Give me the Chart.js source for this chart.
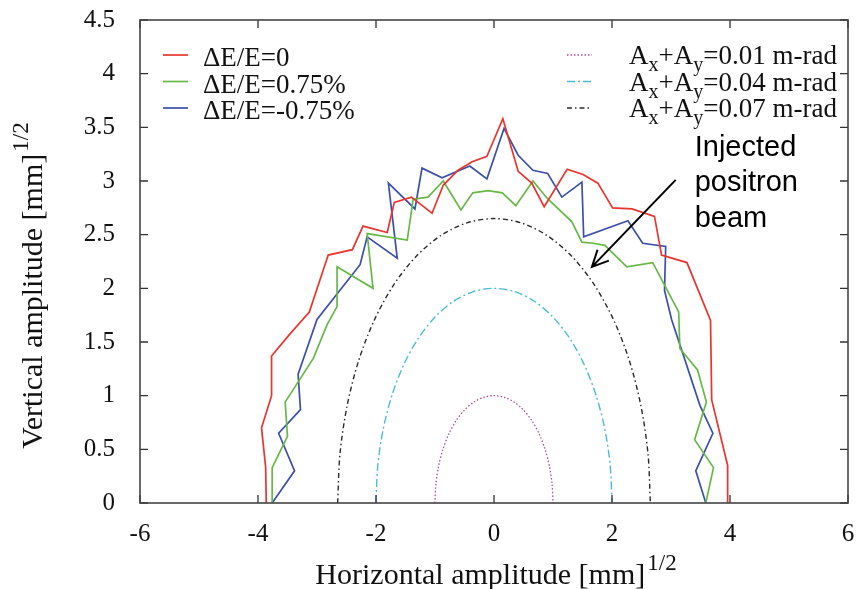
<!DOCTYPE html>
<html>
<head>
<meta charset="utf-8">
<script src="https://cdn.jsdelivr.net/npm/chart.js@4.4.1/dist/chart.umd.min.js"></script>
<style>
  body { margin: 0; background: #fff; }
</style>
</head>
<body>
<canvas id="ampChart" width="861" height="589"></canvas>
<script>
const xTicks = [-6, -4, -2, 0, 2, 4, 6];
const yTicks = [0, 0.5, 1, 1.5, 2, 2.5, 3, 3.5, 4, 4.5];

// dynamic aperture, dE/E = 0
const apX0 = [-3.86, -3.87, -3.94, -3.77, -3.77, -3.45, -3.13, -2.81, -2.40, -2.22, -1.81, -1.69, -1.40, -1.05, -0.86, -0.61, -0.37, -0.12, 0.15, 0.41, 0.64, 0.85, 1.24, 1.51, 1.76, 2.01, 2.34, 2.72, 2.84, 3.27, 3.67, 3.69, 3.96, 3.96];
const apY0 = [0, 0.33, 0.70, 1.00, 1.37, 1.58, 1.78, 2.31, 2.36, 2.58, 2.52, 2.80, 2.85, 2.70, 2.96, 3.10, 3.18, 3.23, 3.58, 3.09, 2.98, 2.76, 3.11, 3.06, 2.98, 2.75, 2.74, 2.67, 2.31, 2.24, 1.70, 0.96, 0.35, 0];
// dE/E = +0.75%
const apXp = [-3.76, -3.76, -3.50, -3.54, -3.06, -2.83, -2.66, -2.66, -2.05, -2.15, -1.47, -1.37, -1.12, -0.86, -0.56, -0.36, -0.10, 0.14, 0.37, 0.66, 0.90, 1.32, 1.49, 1.68, 1.88, 2.25, 2.69, 3.13, 3.15, 3.45, 3.60, 3.40, 3.72, 3.59];
const apYp = [0, 0.33, 0.62, 0.94, 1.35, 1.66, 1.83, 2.20, 2.00, 2.51, 2.45, 2.83, 2.85, 3.00, 2.73, 2.89, 2.91, 2.89, 2.77, 3.00, 2.84, 2.62, 2.43, 2.42, 2.40, 2.20, 2.24, 1.78, 1.44, 1.24, 0.94, 0.59, 0.33, 0];
// dE/E = -0.75%
const apXm = [-3.76, -3.38, -3.65, -3.28, -3.32, -3.00, -2.27, -2.15, -1.64, -1.79, -1.34, -1.22, -0.88, -0.41, -0.12, 0.17, 0.41, 0.66, 0.91, 1.15, 1.49, 1.52, 2.27, 2.52, 2.91, 2.89, 3.01, 3.49, 3.71, 3.42, 3.59];
const apYm = [0, 0.30, 0.65, 0.87, 1.20, 1.71, 2.22, 2.48, 2.28, 2.98, 2.74, 3.12, 3.03, 3.14, 3.02, 3.49, 3.24, 3.10, 3.07, 2.85, 2.99, 2.48, 2.63, 2.42, 2.39, 1.98, 1.71, 0.91, 0.65, 0.30, 0];

// beam envelopes, Ax+Ay = 0.01 / 0.04 / 0.07 m-rad
const envX1 = [-1, -0.985, -0.94, -0.866, -0.766, -0.643, -0.5, -0.342, -0.174, 0, 0.174, 0.342, 0.5, 0.643, 0.766, 0.866, 0.94, 0.985, 1];
const envY1 = [0, 0.174, 0.342, 0.5, 0.643, 0.766, 0.866, 0.94, 0.985, 1, 0.985, 0.94, 0.866, 0.766, 0.643, 0.5, 0.342, 0.174, 0];
const envX4 = [-2, -1.97, -1.88, -1.732, -1.532, -1.286, -1, -0.684, -0.347, 0, 0.347, 0.684, 1, 1.286, 1.532, 1.732, 1.88, 1.97, 2];
const envY4 = [0, 0.347, 0.684, 1, 1.286, 1.532, 1.732, 1.88, 1.97, 2, 1.97, 1.88, 1.732, 1.532, 1.286, 1, 0.684, 0.347, 0];
const envX7 = [-2.65, -2.61, -2.49, -2.295, -2.03, -1.703, -1.325, -0.906, -0.46, 0, 0.46, 0.906, 1.325, 1.703, 2.03, 2.295, 2.49, 2.61, 2.65];
const envY7 = [0, 0.46, 0.906, 1.325, 1.703, 2.03, 2.295, 2.49, 2.61, 2.65, 2.61, 2.49, 2.295, 2.03, 1.703, 1.325, 0.906, 0.46, 0];

const leftLabels = ['ΔE/E=0', 'ΔE/E=0.75%', 'ΔE/E=-0.75%'];
const rightLabels = ['0.01', '0.04', '0.07'];
const noteLines = ['Injected', 'positron', 'beam'];
const arrowFrom = [3.08, 3.01];
const arrowTo = [1.66, 2.20];

const serif = '"Liberation Serif", "Times New Roman", serif';

function pts(xs, ys) {
    return xs.map((x, i) => ({x: x, y: ys[i]}));
}

function line(label, xs, ys, color, dash, width, tension) {
    return {
        label: label,
        data: pts(xs, ys),
        showLine: true,
        borderColor: color,
        borderWidth: width,
        borderDash: dash,
        pointRadius: 0,
        tension: tension,
        fill: false
    };
}

const datasets = [
    line(leftLabels[0], apX0, apY0, '#e8352e', [], 1.7, 0),
    line(leftLabels[1], apXp, apYp, '#68b848', [], 1.7, 0),
    line(leftLabels[2], apXm, apYm, '#3c50a8', [], 1.7, 0),
    line(rightLabels[0], envX1, envY1, '#b04c9c', [1.5, 2], 1.3, 0.3),
    line(rightLabels[1], envX4, envY4, '#4cbcd4', [8, 3, 2, 3], 1.4, 0.3),
    line(rightLabels[2], envX7, envY7, '#2a2a2a', [5, 3, 1.5, 3], 1.4, 0.3)
];

// text with sub/superscripts: parts = [[text, size, dy], ...]
function richWidth(ctx, parts) {
    let w = 0;
    parts.forEach((p) => {
        ctx.font = p[1] + 'px ' + serif;
        w += ctx.measureText(p[0]).width;
    });
    return w;
}
function drawRich(ctx, parts, x, y) {
    parts.forEach((p) => {
        ctx.font = p[1] + 'px ' + serif;
        ctx.fillText(p[0], x, y + p[2]);
        x += ctx.measureText(p[0]).width;
    });
}

const decor = {
    id: 'decor',
    afterDraw(chart) {
        const ctx = chart.ctx;
        const a = chart.chartArea;
        const xs = chart.scales.x, ys = chart.scales.y;
        ctx.save();

        // inward ticks on all four sides
        ctx.strokeStyle = '#333';
        ctx.lineWidth = 1.3;
        ctx.beginPath();
        xTicks.forEach((v) => {
            const px = xs.getPixelForValue(v);
            ctx.moveTo(px, a.bottom); ctx.lineTo(px, a.bottom - 8);
            ctx.moveTo(px, a.top); ctx.lineTo(px, a.top + 8);
        });
        yTicks.forEach((v) => {
            const py = ys.getPixelForValue(v);
            ctx.moveTo(a.left, py); ctx.lineTo(a.left + 8, py);
            ctx.moveTo(a.right, py); ctx.lineTo(a.right - 8, py);
        });
        ctx.stroke();

        // frame
        ctx.strokeStyle = '#444';
        ctx.lineWidth = 1.6;
        ctx.strokeRect(a.left, a.top, a.right - a.left, a.bottom - a.top);

        // legend
        ctx.fillStyle = '#111';
        ctx.textBaseline = 'alphabetic';
        ctx.textAlign = 'left';
        chart.data.datasets.forEach((ds, i) => {
            const col = i < 3 ? 0 : 1;
            const row = i % 3;
            const ly = a.top + 35 + row * 26.5;
            const sx = col === 0 ? a.left + 23 : a.left + 427;
            ctx.strokeStyle = ds.borderColor;
            ctx.lineWidth = ds.borderWidth;
            ctx.setLineDash(ds.borderDash);
            ctx.beginPath();
            ctx.moveTo(sx, ly); ctx.lineTo(sx + 25, ly);
            ctx.stroke();
            ctx.setLineDash([]);
            if (col === 0) {
                ctx.font = '27px ' + serif;
                ctx.fillText(ds.label, a.left + 63, ly + 11);
            } else {
                drawRich(ctx, [['A', 27, 0], ['x', 20, 7], ['+A', 27, 0], ['y', 20, 7], ['=' + ds.label + ' m-rad', 27, 0]],
                    a.left + 489, ly + 9);
            }
        });

        // axis titles
        const xParts = [['Horizontal amplitude [mm]', 30, 0], [' ', 8, 0], ['1/2', 23, -14]];
        const xw = richWidth(ctx, xParts);
        drawRich(ctx, xParts, (a.left + a.right) / 2 - xw / 2 + 2, 584);
        const yParts = [['Vertical amplitude [mm]', 30, 0], [' ', 8, 0], ['1/2', 23, -14]];
        const yw = richWidth(ctx, yParts);
        ctx.save();
        ctx.translate(42, (a.top + a.bottom) / 2 + 24);
        ctx.rotate(-Math.PI / 2);
        drawRich(ctx, yParts, -yw / 2, 0);
        ctx.restore();

        // annotation arrow
        const tx = xs.getPixelForValue(arrowFrom[0]), ty = ys.getPixelForValue(arrowFrom[1]);
        const hx = xs.getPixelForValue(arrowTo[0]), hy = ys.getPixelForValue(arrowTo[1]);
        const ang = Math.atan2(hy - ty, hx - tx);
        ctx.strokeStyle = '#000';
        ctx.lineWidth = 2;
        ctx.beginPath();
        ctx.moveTo(tx, ty); ctx.lineTo(hx, hy);
        ctx.moveTo(hx - 18 * Math.cos(ang - 0.45), hy - 18 * Math.sin(ang - 0.45));
        ctx.lineTo(hx, hy);
        ctx.lineTo(hx - 18 * Math.cos(ang + 0.45), hy - 18 * Math.sin(ang + 0.45));
        ctx.stroke();

        ctx.fillStyle = '#000';
        ctx.font = '29px "Liberation Sans", Arial, sans-serif';
        noteLines.forEach((t, i) => {
            ctx.fillText(t, tx + 19, ty - 24 + i * 35.5);
        });

        ctx.restore();
    }
};

new Chart(document.getElementById('ampChart').getContext('2d'), {
    type: 'scatter',
    data: {datasets: datasets},
    options: {
        responsive: false,
        animation: false,
        devicePixelRatio: 1,
        layout: {padding: {left: 0, top: 20, right: 13, bottom: 0}},
        plugins: {legend: {display: false}, tooltip: {enabled: false}},
        scales: {
            x: {
                type: 'linear',
                min: -6, max: 6,
                afterFit: (s) => { s.height = 86; s.paddingLeft = 0; s.paddingRight = 0; },
                afterBuildTicks: (s) => { s.ticks = xTicks.map((v) => ({value: v})); },
                grid: {display: false},
                border: {display: false},
                ticks: {color: '#111', padding: 8, font: {family: serif, size: 25},
                        callback: (v) => String(v)}
            },
            y: {
                type: 'linear',
                min: 0, max: 4.5,
                afterFit: (s) => { s.width = 140; s.paddingTop = 0; s.paddingBottom = 0; },
                afterBuildTicks: (s) => { s.ticks = yTicks.map((v) => ({value: v})); },
                grid: {display: false},
                border: {display: false},
                ticks: {color: '#111', padding: 17, font: {family: serif, size: 25},
                        callback: (v) => String(v)}
            }
        }
    },
    plugins: [decor]
});
</script>
</body>
</html>
